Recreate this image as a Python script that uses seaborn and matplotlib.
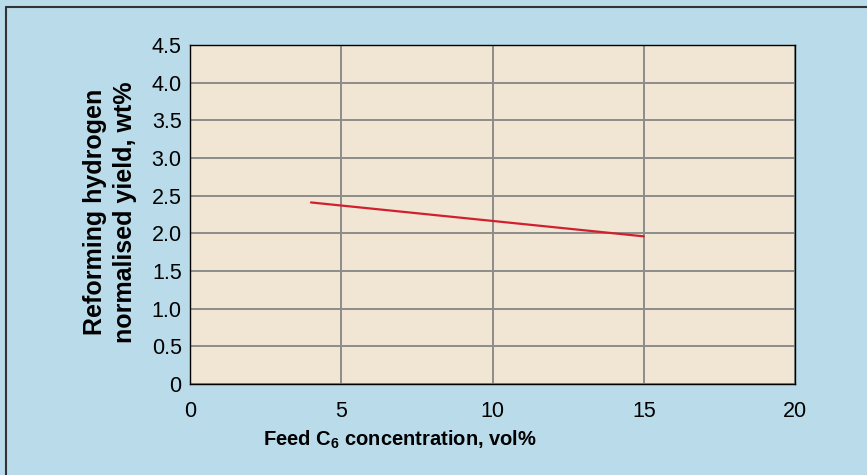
import matplotlib
matplotlib.use("Agg")
import matplotlib.pyplot as plt
import seaborn as sns
import pandas as pd
from matplotlib.lines import Line2D

# Data
feed_c6 = [4, 15]
h2_yield = [2.41, 1.96]
x_ticks = [0, 5, 10, 15, 20]
y_ticks = [0, 0.5, 1.0, 1.5, 2.0, 2.5, 3.0, 3.5, 4.0, 4.5]
y_tick_labels = ["0", "0.5", "1.0", "1.5", "2.0", "2.5", "3.0", "3.5", "4.0", "4.5"]

sns.set_theme(style="white")
plt.rcParams['font.family'] = ['Liberation Sans', 'DejaVu Sans']
plt.rcParams['mathtext.fontset'] = 'custom'
plt.rcParams['mathtext.rm'] = 'Liberation Sans'
plt.rcParams['mathtext.bf'] = 'Liberation Sans:bold'
plt.rcParams['text.color'] = 'black'
plt.rcParams['xtick.color'] = 'black'
plt.rcParams['ytick.color'] = 'black'

BG = "#b9dbea"
PLOT_BG = "#f1e5d3"
GRID = "#8c8c8c"
RED = "#d0202e"

fig = plt.figure(figsize=(8.67, 4.75), dpi=100, facecolor=BG)
ax = fig.add_axes([190/867, 1-384/475, 605/867, 339/475])
ax.set_facecolor(PLOT_BG)

df = pd.DataFrame({"x": feed_c6, "y": h2_yield})
sns.lineplot(data=df, x="x", y="y", ax=ax, color=RED, linewidth=1.6, zorder=3)

ax.set_xlim(0, 20)
ax.set_ylim(0, 4.5)
ax.set_xticks(x_ticks)
ax.set_xticklabels([str(t) for t in x_ticks])
ax.set_yticks(y_ticks)
ax.set_yticklabels(y_tick_labels)
ax.tick_params(axis='both', length=0, labelsize=15.5, colors='black', labelcolor='black')
ax.tick_params(axis='y', pad=6)
ax.tick_params(axis='x', pad=12)

ax.grid(True, color=GRID, linewidth=1.4, zorder=1)
ax.set_axisbelow(True)
for s in ax.spines.values():
    s.set_color('black')
    s.set_linewidth(1.0)
    s.set_visible(True)

ax.set_xlabel("")
ax.set_ylabel("")
fig.text(400/867, 1-440/475, r"Feed C$_{\mathbf{6}}$ concentration, vol%",
         ha='center', va='center', fontsize=14.5, fontweight='bold', color='black')
fig.text(110/867, 1-212/475, "Reforming hydrogen\nnormalised yield, wt%",
         ha='center', va='center', rotation=90, fontsize=18, fontweight='bold',
         linespacing=1.35, color='black')

# figure border (top and left visible)
fig.add_artist(Line2D([6/867, 6/867], [0, 1-7/475], transform=fig.transFigure,
                      color='#333333', linewidth=1.5))
fig.add_artist(Line2D([6/867, 1], [1-7/475, 1-7/475], transform=fig.transFigure,
                      color='#333333', linewidth=1.5))

fig.savefig("out.png", dpi=100, facecolor=BG)
